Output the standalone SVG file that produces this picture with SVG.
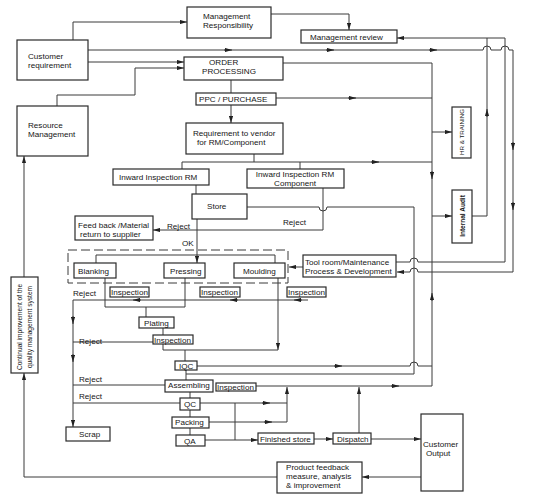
<svg xmlns="http://www.w3.org/2000/svg" width="533" height="500" viewBox="0 0 533 500">
<style>
.b{fill:#fff;stroke:#2a2a2a;stroke-width:1.2}
.c{fill:none;stroke:#3a3a3a;stroke-width:1}
.m{fill:none;stroke:#3a3a3a;stroke-width:1;marker-end:url(#ar)}
text{font-family:"Liberation Sans",Arial,sans-serif;font-size:8.1px;fill:#151515}
.r{font-size:6.6px}
</style>
<defs>
<marker id="ar" viewBox="0 0 10 6" refX="10" refY="3" markerWidth="7" markerHeight="4.2" orient="auto" markerUnits="userSpaceOnUse"><path d="M0,0L10,3L0,6z" fill="#222"/></marker>
</defs>
<rect width="533" height="500" fill="#fff"/>
<g id="connectors">
<path class="m" d="M73,40V22H187"/>
<path class="m" d="M88,62H184"/>
<path class="m" d="M57,106V95H135V68H184"/>
<path class="m" d="M88,50H483A4,4 0 0 1 491,50H501A4,4 0 0 1 509,50H513V272H418A4,4 0 0 0 410,272H397"/>
<path class="m" d="M224,50H232"/><path class="m" d="M326,50H334"/><path class="m" d="M429,50H437"/>
<path class="m" d="M513,142V150"/><path class="m" d="M513,202V210"/>
<path class="m" d="M271,14H349V30"/>
<path class="m" d="M396,262H410A4,4 0 0 1 418,262H505V38H397"/>
<path class="c" d="M472,216H487V38"/>
<path class="m" d="M487,117V109"/>
<path class="c" d="M283,63H432V386H256"/>
<path class="m" d="M432,171V179"/><path class="m" d="M432,301V293"/><path class="m" d="M391,386H399"/>
<path class="c" d="M276,98H432"/><path class="m" d="M348,98H356"/>
<path class="c" d="M231,80V93"/>
<path class="m" d="M231,105V123"/>
<path class="c" d="M254,154V162"/>
<path class="c" d="M182,169V162H432"/><path class="m" d="M371,162H379"/>
<path class="c" d="M300,162V169"/>
<path class="m" d="M432,132H452"/>
<path class="m" d="M432,216H452"/>
<path class="c" d="M196,185V194"/>
<path class="c" d="M247,207H319A4,4 0 0 0 327,207H414V374H186"/>
<path class="m" d="M323,188V230H153"/>
<path class="m" d="M197,219V263"/>
<path class="c" d="M96,263V255H275V263"/>
<path class="m" d="M303,267H289"/>
<path class="c" d="M105,278V307H185V278"/>
<path class="c" d="M146,307V317"/>
<path class="m" d="M308,300H73V427"/>
<path class="m" d="M141,300H133"/><path class="m" d="M238,300H230"/><path class="m" d="M302,300H294"/>
<path class="m" d="M73,316V324"/><path class="m" d="M73,354V362"/>
<path class="c" d="M163,328V335"/>
<path class="c" d="M163,344V350H278"/>
<path class="m" d="M278,278V350"/>
<path class="c" d="M185,350V361"/>
<path class="c" d="M153,342H73"/>
<path class="c" d="M197,366H410A4,4 0 0 1 418,366H432"/>
<path class="m" d="M334,366H342"/>
<path class="c" d="M186,370V380"/>
<path class="c" d="M165,385H73"/>
<path class="c" d="M190,392V398"/>
<path class="c" d="M180,403H73"/>
<path class="m" d="M200,403H287V387"/>
<path class="m" d="M262,403H270"/>
<path class="c" d="M235,403V440"/>
<path class="c" d="M190,410V417"/>
<path class="c" d="M209,422H287V403"/><path class="m" d="M264,422H272"/>
<path class="c" d="M190,428V435"/>
<path class="m" d="M205,440H258"/>
<path class="m" d="M314,439H333"/>
<path class="m" d="M371,439H421"/>
<path class="m" d="M359,433V387"/>
<path class="m" d="M421,477H362"/>
<path class="m" d="M277,477H24V373"/>
<path class="m" d="M24,277V156"/>
</g>
<g id="mgmt-resp"><rect class="b" x="187" y="7" width="84" height="31"/><text x="203" y="19">Management</text><text x="203" y="28">Responsibility</text></g>
<g id="mgmt-review"><rect class="b" x="301" y="30" width="96" height="13"/><text x="310" y="40">Management review</text></g>
<g id="cust-req"><rect class="b" x="17" y="40" width="71" height="40"/><text x="28" y="59">Customer</text><text x="28" y="68">requirement</text></g>
<g id="order"><rect class="b" x="184" y="57" width="99" height="23"/><text x="209" y="65">ORDER</text><text x="202" y="74">PROCESSING</text></g>
<g id="ppc"><rect class="b" x="196" y="93" width="80" height="12"/><text x="199" y="102">PPC / PURCHASE</text></g>
<g id="resource"><rect class="b" x="17" y="106" width="71" height="50"/><text x="28" y="128">Resource</text><text x="28" y="137">Management</text></g>
<g id="req-vendor"><rect class="b" x="186" y="123" width="97" height="31"/><text x="193" y="136">Requirement to vendor</text><text x="197" y="145">for RM/Component</text></g>
<g id="iirm"><rect class="b" x="113" y="169" width="96" height="16"/><text x="119" y="180">Inward Inspection RM</text></g>
<g id="iirmc"><rect class="b" x="247" y="169" width="97" height="19"/><text x="295" y="177" text-anchor="middle">Inward Inspection RM</text><text x="295" y="186" text-anchor="middle">Component</text></g>
<g id="store"><rect class="b" x="192" y="194" width="55" height="25"/><text x="207" y="209">Store</text></g>
<g id="feedback"><rect class="b" x="75" y="216" width="78" height="24"/><text x="78" y="228">Feed back /Material</text><text x="80" y="237">return to supplier</text></g>
<g id="labels-top"><text x="167" y="229">Reject</text><text x="182" y="246">OK</text><text x="283" y="225">Reject</text></g>
<g id="process-group"><rect x="68" y="250" width="220" height="33" fill="none" stroke="#3a3a3a" stroke-width="1" stroke-dasharray="9,4"/></g>
<g id="blanking"><rect class="b" x="74" y="263" width="42" height="15"/><text x="78" y="274">Blanking</text></g>
<g id="pressing"><rect class="b" x="164" y="263" width="41" height="15"/><text x="170" y="274">Pressing</text></g>
<g id="moulding"><rect class="b" x="234" y="263" width="51" height="15"/><text x="243" y="274">Moulding</text></g>
<g id="toolroom"><rect class="b" x="303" y="255" width="93" height="22"/><text x="305" y="265">Tool room/Maintenance</text><text x="305" y="274">Process &amp; Development</text></g>
<g id="insp1"><rect class="b" x="110" y="287" width="39" height="10"/><text x="111" y="295">Inspection</text></g>
<g id="insp2"><rect class="b" x="200" y="287" width="40" height="10"/><text x="201" y="295">Inspection</text></g>
<g id="insp3"><rect class="b" x="287" y="287" width="39" height="10"/><text x="288" y="295">Inspection</text></g>
<g id="reject-labels"><text x="73" y="296">Reject</text><text x="79" y="344">Reject</text><text x="79" y="382">Reject</text><text x="79" y="399">Reject</text></g>
<g id="plating"><rect class="b" x="139" y="317" width="35" height="11"/><text x="144" y="326">Plating</text></g>
<g id="insp-plating"><rect class="b" x="153" y="335" width="40" height="9"/><text x="154" y="343">Inspection</text></g>
<g id="iqc"><rect class="b" x="175" y="361" width="22" height="9"/><text x="179" y="369">IQC</text></g>
<g id="assembling"><rect class="b" x="165" y="380" width="48" height="12"/><text x="168" y="388">Assembling</text></g>
<g id="insp-asm"><rect class="b" x="216" y="383" width="40" height="8"/><text x="217" y="390">Inspection</text></g>
<g id="qc"><rect class="b" x="180" y="398" width="20" height="12"/><text x="184" y="407">QC</text></g>
<g id="packing"><rect class="b" x="172" y="417" width="37" height="11"/><text x="175" y="425">Packing</text></g>
<g id="qa"><rect class="b" x="176" y="435" width="29" height="11"/><text x="184" y="444">QA</text></g>
<g id="scrap"><rect class="b" x="66" y="427" width="44" height="14"/><text x="79" y="437">Scrap</text></g>
<g id="finished"><rect class="b" x="258" y="433" width="56" height="11"/><text x="260" y="442">Finished store</text></g>
<g id="dispatch"><rect class="b" x="333" y="433" width="38" height="11"/><text x="337" y="442">Dispatch</text></g>
<g id="cust-out"><rect class="b" x="421" y="414" width="42" height="77"/><text x="423" y="447">Customer</text><text x="426" y="456">Output</text></g>
<g id="prod-fb"><rect class="b" x="277" y="462" width="85" height="31"/><text x="286" y="470">Product feedback</text><text x="286" y="479">measure, analysis</text><text x="286" y="488">&amp; improvement</text></g>
<g id="continual"><rect class="b" x="11" y="277" width="27" height="96"/><text class="r" transform="translate(22,327) rotate(-90)" text-anchor="middle">Continual improvement of the</text><text class="r" transform="translate(32,327) rotate(-90)" text-anchor="middle">quality management system</text></g>
<g id="hr"><rect class="b" x="452" y="107" width="19" height="51"/><text transform="translate(464,132) rotate(-90)" text-anchor="middle" style="font-size:6.2px">HR &amp; TRAINING</text></g>
<g id="audit"><rect class="b" x="452" y="190" width="20" height="53"/><text transform="translate(464.5,216) rotate(-90)" text-anchor="middle" style="font-size:6.5px;font-weight:bold">Internal Audit</text></g>
</svg>
